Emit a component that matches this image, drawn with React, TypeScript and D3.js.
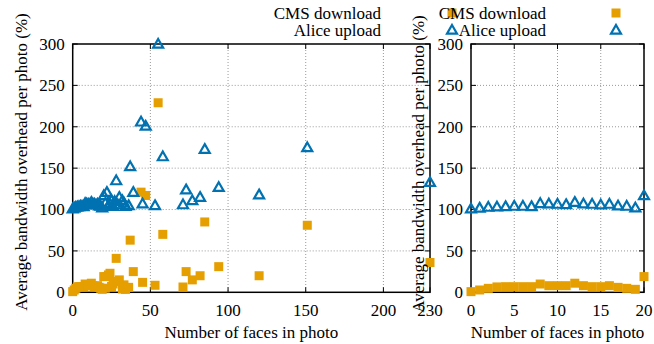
import React, { useEffect, useRef } from 'react';
import * as d3 from 'd3';

// faces 0..20 (shown in both panels)
const facesSmall = [0, 1, 2, 3, 4, 5, 6, 7, 8, 9, 10, 11, 12, 13, 14, 15, 16, 17, 18, 19, 20];
const cmsSmall = [0.8, 2.8, 4.8, 6.5, 6.8, 6.8, 6.8, 6.8, 10, 8, 8, 8, 11, 8, 6.8, 6.8, 8, 6, 4.8, 3.6, 19];
const aliceSmall = [101, 102, 103, 103.4, 103.8, 104.2, 104.2, 103.8, 107.5, 107, 106.6, 106.2, 109, 107, 106.6, 105.8, 106.6, 104.6, 104.2, 102.2, 117];

// extra photos only visible in the wide panel
const facesLarge = [21, 22, 23, 24, 25, 26, 27, 28, 29, 30, 32, 33, 34, 36, 37, 39, 44, 45, 47, 53, 55, 58, 71, 73, 77, 82, 85, 94, 120, 151, 230];
const cmsLarge = [5, 19, 21, 23, 7, 10, 13, 41, 13, 15, 4, 9, 3.5, 6, 63, 25, 121, 12, 117, 8.5, 229, 70, 6.4, 25, 15, 20, 85, 31, 20, 81, 36];
const aliceLarge = [108, 121, 105, 107, 111, 104, 110, 135, 106, 115, 111, 108, 104, 105, 152, 121, 206, 107, 201, 105, 300, 164, 106, 124, 111, 115, 173, 127, 118, 175, 133];

const yTicks = [0, 50, 100, 150, 200, 250, 300];
const xTicksLeft = [0, 50, 100, 150, 200, 230];
const xTicksRight = [0, 5, 10, 15, 20];

const ORANGE = '#e69f00';
const BLUE = '#0072b2';
const FONT = "'Liberation Serif', 'DejaVu Serif', serif";

const triPath = 'M0,-5L5,3.7L-5,3.7Z';

function App() {
    const ref = useRef(null);

    useEffect(() => {
        const svg = d3.select(ref.current);
        svg.selectAll('*').remove();

        const top = 44, bottom = 292.3;
        const y = d3.scaleLinear().domain([0, 300]).range([bottom, top]);

        const panels = [
            { x: d3.scaleLinear().domain([0, 230]).range([72.7, 430]), xt: xTicksLeft, gridX: [50, 100, 150, 200],
              faces: facesSmall.concat(facesLarge), cms: cmsSmall.concat(cmsLarge), alice: aliceSmall.concat(aliceLarge),
              ylabX: 21, ylabY: 162, legEnd: 381, legSym: 452 },
            { x: d3.scaleLinear().domain([0, 20]).range([471, 644]), xt: xTicksRight, gridX: [5, 10, 15],
              faces: facesSmall, cms: cmsSmall, alice: aliceSmall,
              ylabX: 418, ylabY: 164, legEnd: 546, legSym: 616 },
        ];

        panels.forEach((p) => {
            const [x0, x1] = p.x.range();
            const g = svg.append('g');

            // grid
            g.selectAll('.gy').data(yTicks.filter((t) => t > 0 && t < 300)).enter().append('line')
                .attr('x1', x0).attr('x2', x1).attr('y1', (d) => y(d)).attr('y2', (d) => y(d))
                .attr('stroke', '#999').attr('stroke-width', 1).attr('stroke-dasharray', '1,2');
            g.selectAll('.gx').data(p.gridX).enter().append('line')
                .attr('x1', (d) => p.x(d)).attr('x2', (d) => p.x(d)).attr('y1', top).attr('y2', bottom)
                .attr('stroke', '#999').attr('stroke-width', 1).attr('stroke-dasharray', '1,2');

            // ticks (inward, mirrored)
            yTicks.forEach((t) => {
                g.append('line').attr('x1', x0).attr('x2', x0 + 5).attr('y1', y(t)).attr('y2', y(t)).attr('stroke', '#000');
                g.append('line').attr('x1', x1).attr('x2', x1 - 5).attr('y1', y(t)).attr('y2', y(t)).attr('stroke', '#000');
            });
            p.xt.forEach((t) => {
                g.append('line').attr('x1', p.x(t)).attr('x2', p.x(t)).attr('y1', bottom).attr('y2', bottom - 5).attr('stroke', '#000');
                g.append('line').attr('x1', p.x(t)).attr('x2', p.x(t)).attr('y1', top).attr('y2', top + 5).attr('stroke', '#000');
            });

            // tick labels
            g.selectAll('.yl').data(yTicks).enter().append('text')
                .attr('x', x0 - 8).attr('y', (d) => y(d)).attr('dy', '0.35em')
                .attr('text-anchor', 'end')
                .text((d) => d);
            g.selectAll('.xl').data(p.xt).enter().append('text')
                .attr('x', (d) => p.x(d)).attr('y', 310).attr('dy', '0.35em')
                .attr('text-anchor', 'middle')
                .text((d) => d);

            // axis labels
            g.append('text')
                .attr('transform', `translate(${p.ylabX}, ${p.ylabY}) rotate(-90)`)
                .attr('dy', '0.35em').attr('text-anchor', 'middle')
                .text('Average bandwidth overhead per photo (%)');
            g.append('text')
                .attr('x', (x0 + x1) / 2).attr('y', 332).attr('dy', '0.35em').attr('text-anchor', 'middle')
                .text('Number of faces in photo');

            // border
            g.append('rect').attr('x', x0).attr('y', top).attr('width', x1 - x0).attr('height', bottom - top)
                .attr('fill', 'none').attr('stroke', '#000').attr('stroke-width', 1.5);

            // CMS download
            g.selectAll('.cms').data(p.faces).enter().append('rect')
                .attr('x', (d) => p.x(d) - 4.5).attr('y', (d, i) => y(p.cms[i]) - 4.5)
                .attr('width', 9).attr('height', 9).attr('fill', ORANGE);

            // Alice upload
            g.selectAll('.alice').data(p.faces).enter().append('path')
                .attr('d', triPath)
                .attr('transform', (d, i) => `translate(${p.x(d)}, ${y(p.alice[i])})`)
                .attr('fill', 'none').attr('stroke', BLUE).attr('stroke-width', 2.2);
        });

        // legends drawn last so symbols overlap neighbour text like the original
        panels.forEach((p) => {
            const g = svg.append('g');
            [['CMS download', 13], ['Alice upload', 30]].forEach(([label, ly]) => {
                g.append('text').attr('x', p.legEnd).attr('y', ly).attr('dy', '0.35em')
                    .attr('text-anchor', 'end')
                    .text(label);
            });
            g.append('rect').attr('x', p.legSym - 4.5).attr('y', 13 - 4.5).attr('width', 9).attr('height', 9).attr('fill', ORANGE);
            g.append('path').attr('d', triPath).attr('transform', `translate(${p.legSym}, 30)`)
                .attr('fill', 'none').attr('stroke', BLUE).attr('stroke-width', 2.2);
        });
    }, []);

    return (
        <svg ref={ref} width={654} height={344}
            style={{ position: 'absolute', left: 0, top: 0, background: '#fff', fontFamily: FONT, fontSize: 17 }} />
    );
}

export default App;
